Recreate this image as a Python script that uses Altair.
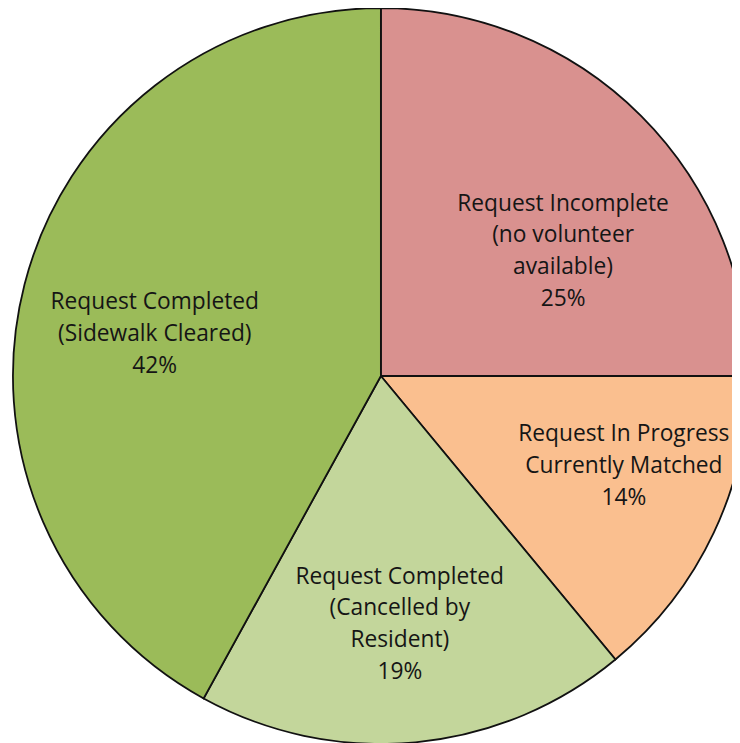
import altair as alt
import pandas as pd

categories = [
    "Request Incomplete\n(no volunteer\navailable)",
    "Request In Progress\nCurrently Matched",
    "Request Completed\n(Cancelled by\nResident)",
    "Request Completed\n(Sidewalk Cleared)",
]
values = [25, 14, 19, 42]
colors = ["#D9918F", "#FABF8F", "#C3D69B", "#9BBB59"]

df = pd.DataFrame({
    "category": categories,
    "value": values,
    "order": list(range(len(categories))),
})
df["label"] = df["category"] + "\n" + df["value"].astype(str) + "%"

CX, CY, R = 377, 368, 372

pie = alt.Chart(df).mark_arc(stroke="#111111", strokeWidth=1.8).encode(
    theta=alt.Theta("value:Q", stack=True),
    order=alt.Order("order:Q"),
    x=alt.value(CX),
    y=alt.value(CY),
    radius=alt.value(R),
    color=alt.Color("category:N", scale=alt.Scale(domain=categories, range=colors), legend=None),
)

text_base = alt.Chart(df).transform_window(
    cum="sum(value)", sort=[alt.SortField("order")]
).transform_calculate(
    mid="datum.cum - datum.value / 2"
)

offsets = [(18, -8), (33, -41), (-3, -31), (-1, -16)]
layers = [pie]
for cat, (ddx, ddy) in zip(categories, offsets):
    t = text_base.transform_filter(alt.datum.category == cat).mark_text(
        font="Open Sans", fontSize=23, color="#151515", lineBreak="\n", lineHeight=32,
        align="center", baseline="middle", dx=ddx, dy=ddy,
    ).encode(
        theta=alt.Theta("mid:Q", stack=None, scale=alt.Scale(domain=[0, 100], range=[0, 6.283185307179586])),
        x=alt.value(CX),
        y=alt.value(CY),
        radius=alt.value(235),
        text="label:N",
    )
    layers.append(t)

chart = alt.layer(*layers).resolve_scale(theta="independent").properties(
    width=732, height=735, padding=0, autosize=alt.AutoSizeParams(type="none")
).configure_view(stroke=None)

chart.save("out.html", embed_options={"renderer": "svg", "actions": False})
